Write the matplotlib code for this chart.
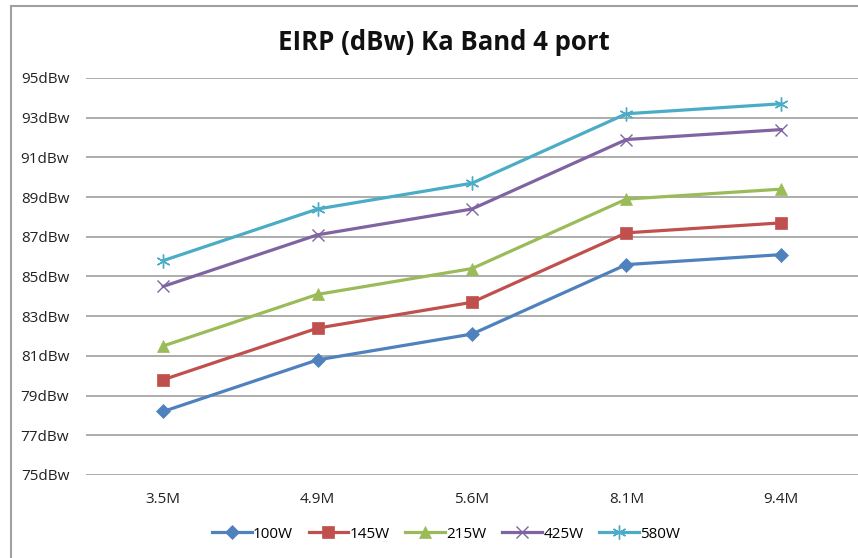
import matplotlib.pyplot as plt
from matplotlib.patches import Rectangle

categories = ['3.5M', '4.9M', '5.6M', '8.1M', '9.4M']
series_names = ['100W', '145W', '215W', '425W', '580W']
eirp_100w = [78.2, 80.8, 82.1, 85.6, 86.1]
eirp_145w = [79.8, 82.4, 83.7, 87.2, 87.7]
eirp_215w = [81.5, 84.1, 85.4, 88.9, 89.4]
eirp_425w = [84.5, 87.1, 88.4, 91.9, 92.4]
eirp_580w = [85.8, 88.4, 89.7, 93.2, 93.7]
y_ticks = list(range(75, 96, 2))

colors = ['#4F81BD', '#C0504D', '#9BBB59', '#8064A2', '#4BACC6']
markers = ['D', 's', '^', 'x', (6, 2, 0)]
sizes = [7, 8.5, 9, 9, 10]

plt.rcParams['font.family'] = ['Open Sans', 'DejaVu Sans']

fig = plt.figure(figsize=(8.58, 5.58), dpi=100)
fig.patches.append(Rectangle((11 / 858, -0.1), 1.2, 1.1 - 6 / 558, transform=fig.transFigure,
                             fill=False, edgecolor='#a0a0a0', linewidth=1.5))

ax = fig.add_axes([86 / 858, 1 - 475 / 558, 1 - 86 / 858, 397 / 558])
x = list(range(len(categories)))
all_series = [eirp_100w, eirp_145w, eirp_215w, eirp_425w, eirp_580w]
for vals, name, c, m, s in zip(all_series, series_names, colors, markers, sizes):
    ax.plot(x, vals, color=c, linewidth=2.3, marker=m, markersize=s,
            markeredgewidth=1.0 if m in ('x', (6, 2, 0)) else 0.5,
            markeredgecolor=c, label=name)

ax.set_xlim(-0.5, len(categories) - 0.5)
ax.set_ylim(75, 95)
ax.set_yticks(y_ticks)
ax.set_yticklabels([f'{v}dBw' for v in y_ticks])
ax.set_xticks(x)
ax.set_xticklabels(categories)
ax.tick_params(axis='both', length=0, labelsize=11, colors='#222222')
ax.tick_params(axis='y', pad=12)
ax.tick_params(axis='x', pad=12)
ax.grid(axis='y', color='#a6a6a6', linewidth=1.3)
ax.set_axisbelow(True)
for sp in ax.spines.values():
    sp.set_visible(False)

fig.text(444 / 858, 1 - 42 / 558, 'EIRP (dBw) Ka Band 4 port', ha='center', va='center',
         fontsize=18.5, fontweight='bold', color='#111111')

fig.legend(loc='center', bbox_to_anchor=(446 / 858, 1 - 534 / 558), ncol=5, frameon=False,
           fontsize=11, handlelength=2.6, columnspacing=1.0, handletextpad=0.1)

fig.savefig('out.png', dpi=100)
